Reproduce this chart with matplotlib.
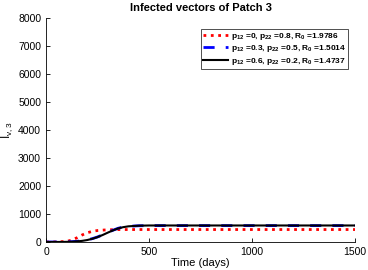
import matplotlib.pyplot as plt

plt.rcParams['font.family'] = ['Liberation Sans', 'DejaVu Sans']
plt.rcParams['mathtext.default'] = 'regular'

# time points (days)
t = [0, 50, 100, 125, 150, 175, 200, 225, 250, 275, 300, 325, 350, 375, 400, 450, 500, 600, 800, 1000, 1200, 1500]

# infected vectors of patch 3
red = [0, 2, 20, 70, 150, 250, 330, 380, 410, 425, 435, 440, 443, 445, 445, 445, 445, 445, 445, 445, 445, 445]
blue = [0, 0, 5, 12, 25, 45, 75, 120, 180, 255, 340, 420, 490, 535, 560, 580, 585, 585, 585, 585, 585, 585]
black = [0, 0, 5, 10, 22, 40, 70, 115, 175, 250, 335, 415, 485, 530, 560, 582, 590, 590, 590, 590, 590, 590]

labels = [r'p$_{12}$ =0, p$_{22}$ =0.8, R$_0$ =1.9786',
          r'p$_{12}$ =0.3, p$_{22}$ =0.5, R$_0$ =1.5014',
          r'p$_{12}$ =0.6, p$_{22}$ =0.2, R$_0$ =1.4737']

fig = plt.figure(figsize=(3.68, 2.70), dpi=100)
ax = fig.add_axes([46/368, 28/270, 309/368, 224/270])

ax.plot(t, red, color='red', linestyle=':', linewidth=2, label=labels[0])
ax.plot(t, blue, color='blue', linestyle=(0, (4, 4)), linewidth=2, label=labels[1])
ax.plot(t, black, color='black', linestyle='-', linewidth=1.5, label=labels[2])

ax.set_xlim(0, 1500)
ax.set_ylim(0, 8000)
ax.set_xticks([0, 500, 1000, 1500])
ax.set_yticks(range(0, 8001, 1000))
ax.spines['top'].set_visible(False)
ax.spines['right'].set_visible(False)
ax.tick_params(labelsize=7.5, direction='in', length=3, width=0.6)
for s in ['left', 'bottom']:
    ax.spines[s].set_linewidth(0.6)
ax.set_xlabel('Time (days)', fontsize=8, labelpad=1)
ax.set_ylabel(r'I$_{v,3}$', fontsize=8.5, labelpad=2)
ax.set_title('Infected vectors of Patch 3', fontsize=8, fontweight='bold', pad=5)

leg = ax.legend(loc='upper right', bbox_to_anchor=(0.977, 0.951), frameon=True,
                fancybox=False, edgecolor='black', handlelength=3.0, borderpad=0.25,
                labelspacing=0.15, handletextpad=0.3, borderaxespad=0,
                prop={'weight': 'bold', 'size': 6})
leg.get_frame().set_linewidth(0.6)

fig.savefig('out.png', dpi=100)
